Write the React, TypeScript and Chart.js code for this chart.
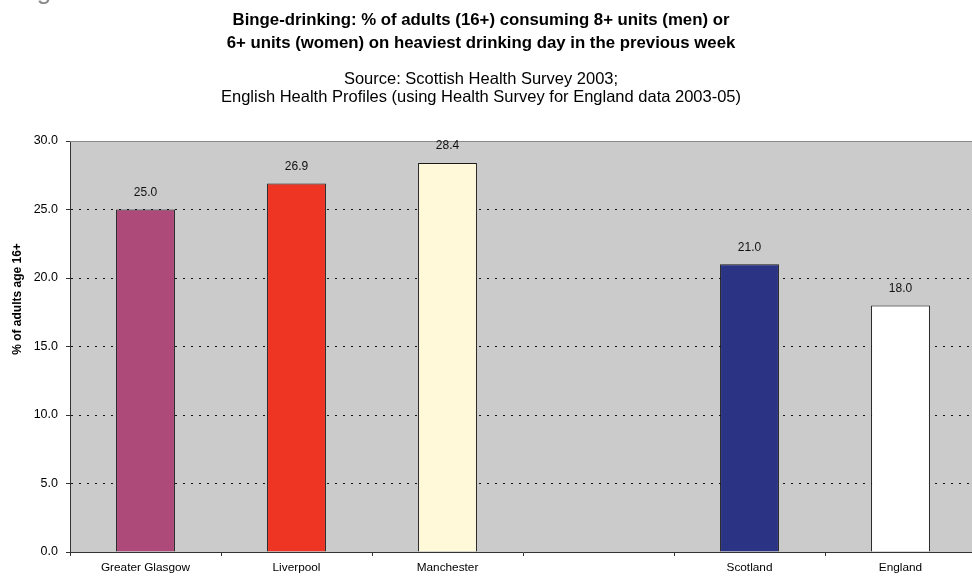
import React, { useEffect, useRef } from "react";
import { Chart, registerables } from "chart.js";

Chart.register(...registerables);

const categories = ["Greater Glasgow", "Liverpool", "Manchester", "", "Scotland", "England"];
const values: (number | null)[] = [25.0, 26.9, 28.4, null, 21.0, 18.0];
const barColors = ["#AD4A7A", "#EE3524", "#FFF9D9", "#CBCBCB", "#2B3385", "#FFFFFF"];
const titleLines = [
  "Binge-drinking: % of adults (16+) consuming 8+ units (men) or",
  "6+ units (women) on heaviest drinking day in the previous week",
];
const subtitleLines = [
  "Source: Scottish Health Survey 2003;",
  "English Health Profiles (using Health Survey for England data 2003-05)",
];
const yAxisTitle = "% of adults age 16+";
const figureLabel = "Figure 3";
const yMin = 0;
const yMax = 30;
const yStep = 5;

const FONT = "'Liberation Sans', Arial, Helvetica, sans-serif";

const decorPlugin = {
  id: "decor",
  beforeDraw(chart: any) {
    const { ctx, chartArea } = chart;
    ctx.save();
    ctx.fillStyle = "#FFFFFF";
    ctx.fillRect(0, 0, chart.width, chart.height);
    ctx.fillStyle = "#CBCBCB";
    ctx.fillRect(chartArea.left, chartArea.top, chartArea.right - chartArea.left, chartArea.bottom - chartArea.top);
    ctx.restore();
  },
  beforeDatasetsDraw(chart: any) {
    const { ctx, chartArea } = chart;
    ctx.save();
    ctx.strokeStyle = "#8A8A8A";
    ctx.lineWidth = 1;
    ctx.beginPath();
    ctx.moveTo(chartArea.left, chartArea.top + 0.5);
    ctx.lineTo(chartArea.right, chartArea.top + 0.5);
    ctx.stroke();
    ctx.restore();
  },
  afterDatasetsDraw(chart: any) {
    const { ctx } = chart;
    const meta = chart.getDatasetMeta(0);
    ctx.save();
    ctx.fillStyle = "#111";
    ctx.font = `12px ${FONT}`;
    ctx.textAlign = "center";
    ctx.textBaseline = "middle";
    meta.data.forEach((el: any, i: number) => {
      const v = values[i];
      if (v === null || v === undefined) return;
      ctx.fillText(v.toFixed(1), el.x, el.y - 17);
    });
    ctx.restore();
  },
  afterDraw(chart: any) {
    const { ctx } = chart;
    ctx.save();
    ctx.fillStyle = "#000";
    ctx.textAlign = "center";
    ctx.textBaseline = "middle";
    ctx.font = `bold 16.8px ${FONT}`;
    ctx.fillText(titleLines[0], 481, 20);
    ctx.fillText(titleLines[1], 481, 43);
    ctx.font = `16.5px ${FONT}`;
    ctx.fillText(subtitleLines[0], 481, 79);
    ctx.fillText(subtitleLines[1], 481, 97);
    // y axis title
    ctx.save();
    ctx.translate(18, 299);
    ctx.rotate(-Math.PI / 2);
    ctx.font = `bold 12px ${FONT}`;
    ctx.fillText(yAxisTitle, 0, 0);
    ctx.restore();
    // cropped figure label at top
    ctx.fillStyle = "#8A8A8A";
    ctx.textAlign = "left";
    ctx.textBaseline = "alphabetic";
    ctx.font = `26px ${FONT}`;
    ctx.fillText(figureLabel, 15, -1);
    ctx.restore();
  },
};

export default function App() {
  const ref = useRef<HTMLCanvasElement | null>(null);
  useEffect(() => {
    if (!ref.current) return;
    const chart = new Chart(ref.current, {
      type: "bar",
      data: {
        labels: categories,
        datasets: [
          {
            data: values,
            backgroundColor: barColors,
            borderColor: "#1A1A1A",
            borderWidth: 1,
            barPercentage: 0.39,
            categoryPercentage: 1,
          },
        ],
      },
      options: {
        animation: false,
        responsive: false,
        devicePixelRatio: 1,
        layout: { padding: { top: 141, right: 4, left: 0, bottom: 0 } },
        plugins: {
          legend: { display: false },
          title: { display: false },
          tooltip: { enabled: false },
        },
        scales: {
          x: {
            offset: true,
            grid: {
              offset: true,
              drawOnChartArea: false,
              drawTicks: true,
              tickLength: 4,
              tickColor: "#333",
            },
            border: { display: true, color: "#333", width: 1 },
            ticks: {
              color: "#000",
              font: { family: FONT, size: 11.8 },
              padding: 5,
              maxRotation: 0,
              autoSkip: false,
            },
            afterFit(scale: any) {
              scale.height = 25;
            },
          },
          y: {
            min: yMin,
            max: yMax,
            grid: {
              color: (c: any) =>
                c.tick && (c.tick.value === yMin || c.tick.value === yMax) ? "rgba(0,0,0,0)" : "#111",
              lineWidth: 1,
              tickLength: 4,
              tickColor: "#333",
              drawTicks: true,
            },
            border: { display: true, color: "#333", width: 1, dash: [2, 6] },
            ticks: {
              stepSize: yStep,
              color: "#000",
              font: { family: FONT, size: 12.5 },
              padding: 8,
              callback: (v: any) => Number(v).toFixed(1),
            },
            afterFit(scale: any) {
              scale.width = 70;
            },
          },
        },
      },
      plugins: [decorPlugin],
    });
    return () => chart.destroy();
  }, []);
  return (
    <div
      style={{
        position: "absolute",
        left: 0,
        top: 0,
        width: 972,
        height: 577,
        overflow: "hidden",
        background: "#fff",
      }}
    >
      <canvas ref={ref} width={980} height={577} style={{ width: 980, height: 577, display: "block" }} />
    </div>
  );
}
